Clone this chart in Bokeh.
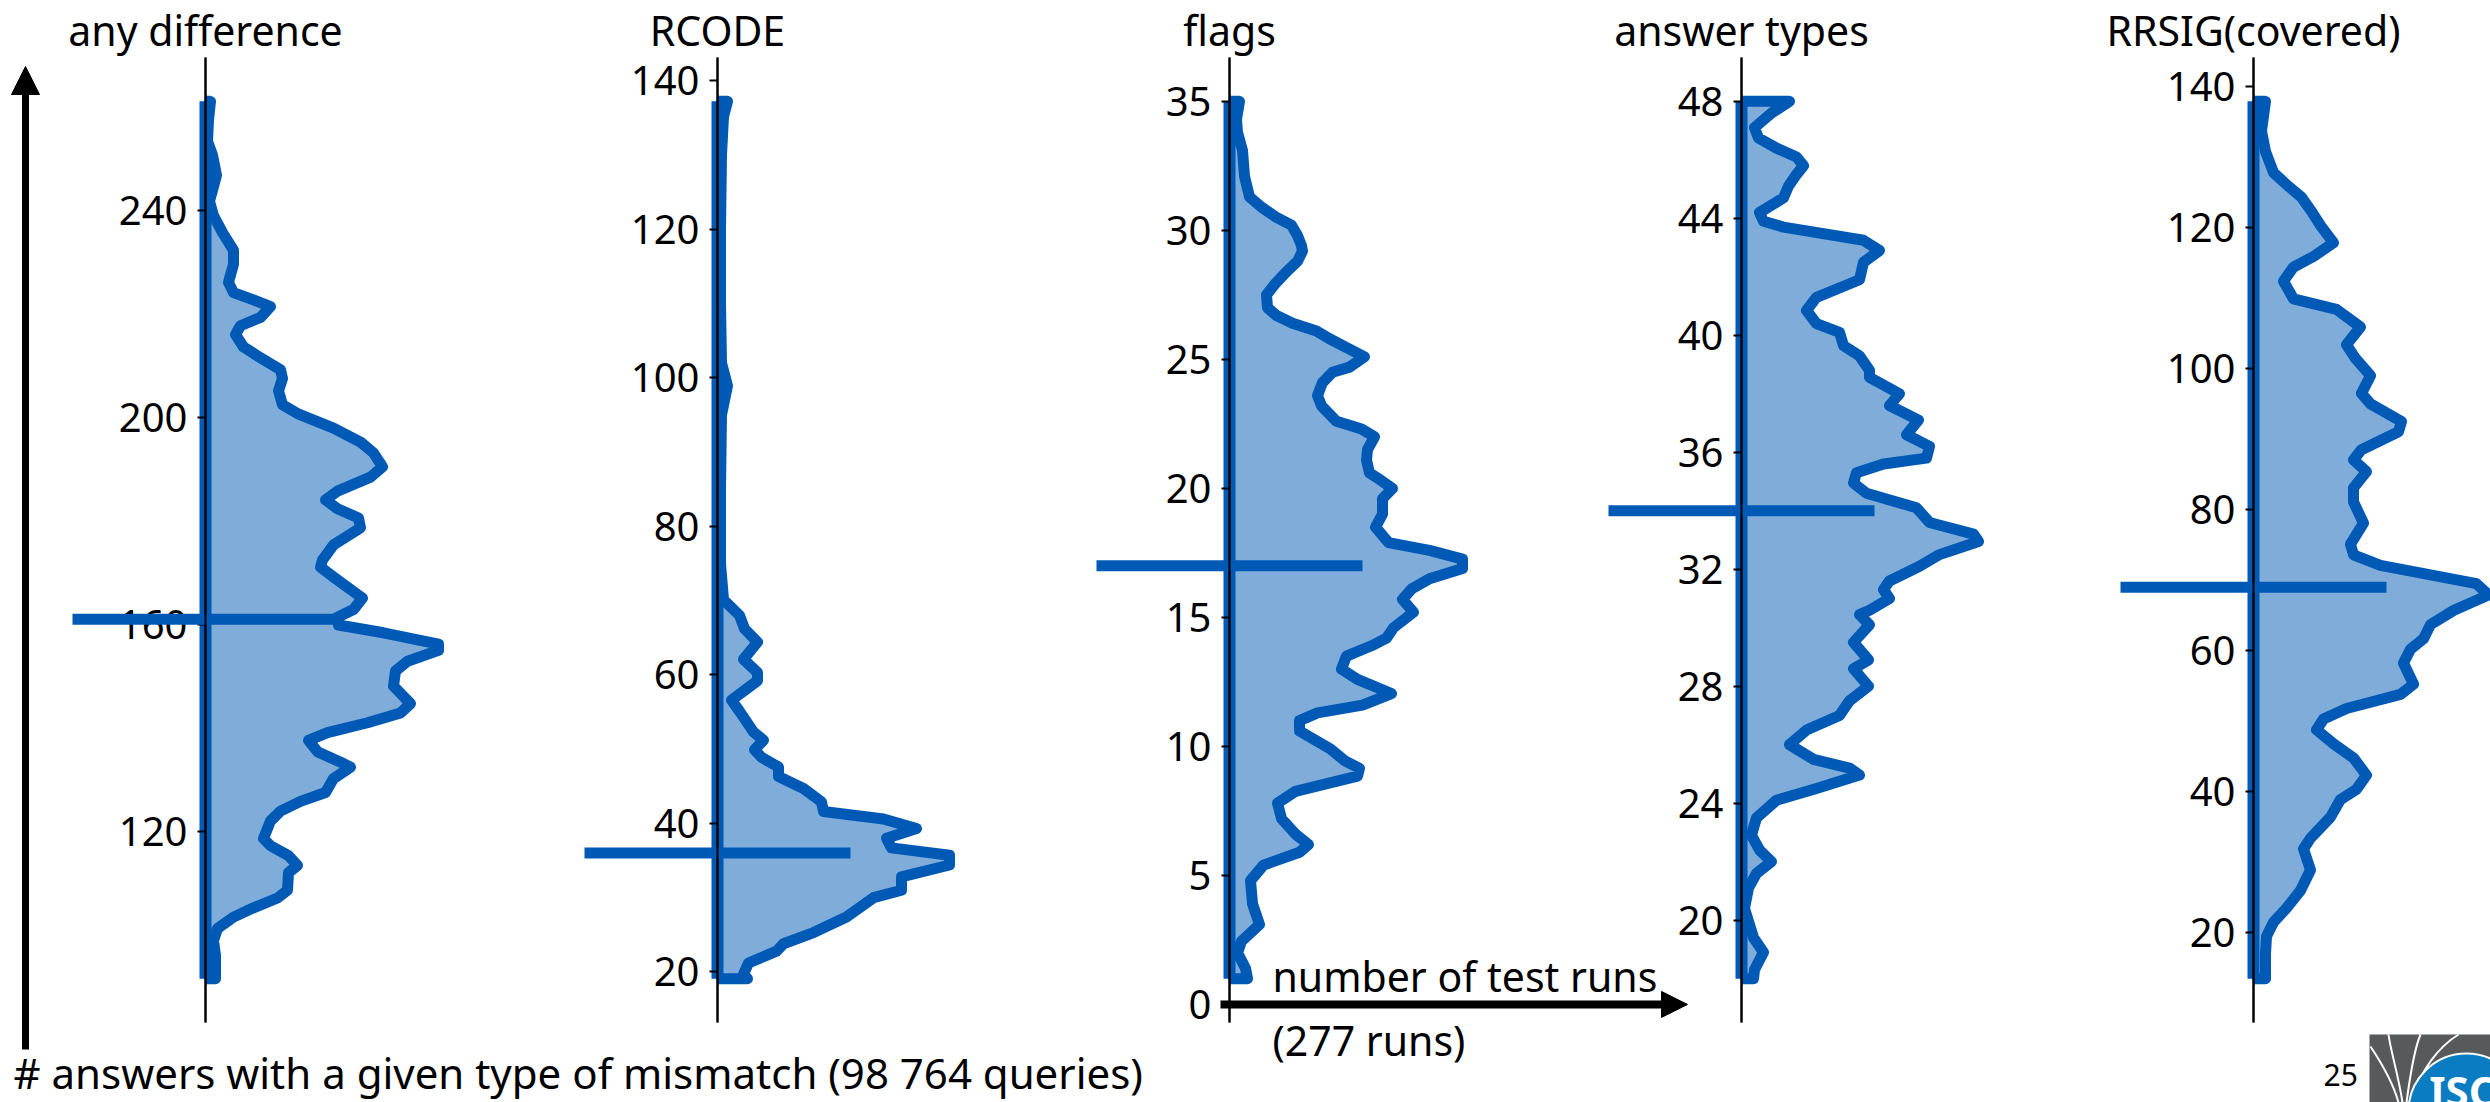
from bokeh.plotting import figure
from bokeh.models import Range1d, LinearAxis, FixedTicker, Arrow, NormalHead, Label
from bokeh.embed import file_html
from bokeh.resources import INLINE

# ---------------------------------------------------------------- data
TITLES = ["any difference", "RCODE", "flags", "answer types", "RRSIG(covered)"]

# number of mismatching answers (y) and the smoothed number of test runs (x)
ANY_VALUES = [91.5, 96, 98.9, 101.2, 103.4, 105.2, 107.1, 108.6, 112, 113.4,
              115.3, 117.2, 118.6, 122, 123.9, 125.8, 127.5, 130.2, 132.4, 133.1,
              135.4, 137.6, 139.1, 141, 142.9, 144.7, 148.1, 151, 152.9, 155,
              156.2, 158.4, 159.9, 161.4, 162.9, 165.1, 169.2, 171.1, 172.5, 175.4,
              178.7, 180.6, 182.4, 184.1, 185.8, 188.5, 190.5, 193.2, 195.3, 198,
              200.8, 202.5, 205.2, 207.6, 209.3, 211.6, 213.7, 216.1, 217.8, 219.4,
              221.5, 222.8, 224.2, 226.2, 229.7, 232.4, 235.8, 239.1, 241.9, 244,
              246.9, 250.8, 253.5, 257.6, 261.2]
ANY_RUNS = [1.0, 1.0, 0.8, 1.2, 2.8, 4.8, 7.2, 8.2, 8.3, 9.2,
            8.3, 6.5, 5.8, 6.5, 7.5, 9.5, 12.0, 12.8, 14.5, 13.8,
            11.2, 10.3, 12.2, 16.2, 19.5, 20.5, 18.8, 19.0, 20.2, 23.3,
            23.3, 17.8, 13.3, 13.2, 14.8, 15.7, 12.8, 11.5, 11.7, 12.8,
            15.5, 15.3, 13.2, 12.0, 13.2, 16.5, 17.7, 16.8, 15.5, 12.8,
            9.2, 7.7, 7.3, 7.7, 7.5, 5.5, 3.8, 3.0, 3.5, 5.5,
            6.5, 4.8, 2.8, 2.3, 2.8, 2.8, 1.7, 0.8, 0.4, 0.7,
            1.1, 0.7, 0.2, 0.3, 0.5]

RCODE_VALUES = [19.1, 19.7, 21.2, 22.8, 23.8, 25.3, 27.4, 30.0, 31.0, 32.8,
                34.4, 35.7, 36.7, 38.0, 39.3, 40.6, 41.6, 42.9, 44.7, 46.3,
                47.6, 48.9, 49.9, 51.2, 52.3, 55.1, 56.6, 59.2, 60.3, 62.1,
                64.4, 66.2, 68.0, 70.1, 75, 85, 95, 98.9, 102, 110,
                120, 130, 135.1, 137.2]
RCODE_RUNS = [3.0, 2.6, 3.1, 5.9, 6.6, 9.6, 12.9, 15.6, 18.4, 18.4,
              23.2, 23.2, 17.4, 16.9, 19.9, 16.6, 10.6, 10.4, 8.6, 6.1,
              6.1, 4.4, 3.7, 4.6, 3.6, 2.2, 1.4, 4.0, 4.0, 2.6,
              4.0, 2.7, 2.2, 0.6, 0.3, 0.3, 0.4, 1.0, 0.4, 0.3,
              0.3, 0.4, 0.6, 1.0]

FLAGS_VALUES = [1.0, 1.4, 2.0, 2.45, 3.1, 3.9, 4.8, 5.4, 5.9, 6.2,
                6.6, 7.2, 7.8, 8.26, 8.85, 9.15, 9.45, 9.9, 10.6, 11.0,
                11.3, 11.6, 12.05, 12.6, 13.0, 13.5, 13.9, 14.2, 14.6, 15.2,
                15.7, 16.1, 16.5, 16.9, 17.26, 17.6, 17.9, 18.5, 19.0, 19.6,
                20.0, 20.3, 20.6, 21.1, 21.5, 22.0, 22.3, 22.6, 23.2, 23.6,
                24.1, 24.5, 24.7, 25.1, 25.4, 25.8, 26.1, 26.4, 26.7, 27.0,
                27.5, 27.9, 28.4, 28.8, 29.2, 29.4, 29.8, 30.2, 30.5, 30.9,
                31.3, 32.1, 33.1, 33.8, 34.3, 35.0]
FLAGS_RUNS = [1.8, 1.6, 0.8, 1.2, 3.0, 2.3, 2.1, 3.4, 7.0, 7.9,
              6.6, 5.2, 4.8, 6.6, 12.8, 13.0, 11.5, 10.1, 7.0, 7.0,
              8.8, 13.3, 16.2, 12.8, 11.2, 11.7, 14.2, 15.7, 16.4, 18.4,
              17.3, 18.2, 20.0, 23.3, 23.3, 20.0, 15.9, 14.6, 15.3, 15.3,
              16.3, 15.2, 14.0, 13.7, 13.8, 14.5, 13.2, 10.7, 9.2, 8.8,
              9.3, 10.3, 12.0, 13.5, 12.0, 10.0, 8.7, 6.3, 4.7, 3.8,
              3.7, 4.5, 5.7, 6.8, 7.3, 7.2, 6.8, 6.2, 4.7, 3.2,
              2.0, 1.5, 1.3, 0.8, 0.7, 1.0]

TYPES_VALUES = [18.0, 18.3, 18.9, 19.4, 20.4, 21.1, 21.6, 22.0, 22.4, 22.9,
                23.5, 24.1, 24.5, 24.96, 25.2, 25.5, 26.0, 26.5, 27.0, 27.5,
                28.0, 28.6, 28.9, 29.5, 30.1, 30.45, 30.6, 31.0, 31.3, 31.6,
                32.1, 32.5, 32.95, 33.2, 33.6, 34.1, 34.6, 34.95, 35.3, 35.6,
                35.8, 36.2, 36.6, 37.1, 37.6, 38.0, 38.56, 38.8, 39.3, 39.65,
                40.1, 40.4, 40.85, 41.3, 41.9, 42.5, 42.9, 43.25, 43.7, 43.9,
                44.2, 44.7, 45.1, 45.5, 45.8, 46.1, 46.4, 46.75, 47.1, 47.6,
                48.0]
TYPES_RUNS = [1.2, 1.3, 2.2, 1.2, 0.3, 0.7, 1.5, 3.0, 1.8, 1.0,
              1.5, 3.5, 7.5, 11.8, 10.8, 7.2, 4.8, 6.5, 9.8, 10.8,
              12.7, 11.2, 12.7, 11.2, 12.8, 11.8, 12.8, 14.8, 14.2, 14.8,
              17.8, 19.8, 23.7, 23.2, 18.8, 17.5, 12.5, 11.2, 11.5, 14.2,
              18.5, 18.8, 16.5, 17.7, 14.8, 15.8, 12.8, 12.8, 11.8, 10.2,
              9.8, 7.5, 6.5, 7.5, 11.8, 12.2, 13.8, 12.2, 4.2, 2.2,
              1.8, 4.2, 4.7, 5.5, 6.2, 5.5, 3.5, 1.7, 1.3, 3.0,
              4.8]

RRSIG_VALUES = [13.5, 17.0, 19.5, 21.5, 23.5, 26.0, 28.9, 31.9, 33.4, 36.4,
                38.9, 40.35, 42.35, 44.8, 46.8, 48.8, 50.3, 51.8, 53.8, 55.25,
                58.25, 60.2, 61.7, 63.7, 65.7, 67.9, 69.5, 72.1, 73.6, 75.1,
                78.1, 81.1, 83.1, 85.4, 87.05, 88.5, 91.05, 92.5, 95.0, 96.5,
                99.0, 101.45, 103.4, 105.9, 108.4, 109.9, 112.4, 114.4, 115.9, 117.85,
                120.3, 122.3, 124.3, 126.1, 127.8, 130.8, 133.7, 137.9]
RRSIG_RUNS = [1.2, 1.2, 1.3, 2.0, 3.3, 4.7, 5.7, 5.0, 5.7, 7.7,
              8.7, 10.3, 11.3, 10.0, 8.0, 6.3, 7.0, 9.3, 14.7, 16.0,
              15.0, 15.7, 17.0, 17.7, 20.0, 23.5, 22.3, 12.7, 10.0, 9.7,
              11.0, 10.0, 10.0, 11.3, 10.0, 10.8, 14.5, 14.8, 11.7, 10.8,
              11.7, 10.2, 9.3, 10.7, 8.3, 4.0, 3.0, 4.0, 6.0, 8.0,
              6.7, 5.8, 4.8, 3.3, 2.0, 1.2, 0.8, 1.2]

MEDIANS = [161, 36, 17, 34, 69]

TICKS = [[120, 160, 200, 240],
         [20, 40, 60, 80, 100, 120, 140],
         [0, 5, 10, 15, 20, 25, 30, 35],
         [20, 24, 28, 32, 36, 40, 44, 48],
         [20, 40, 60, 80, 100, 120, 140]]

TOTAL_RUNS = 277
TOTAL_QUERIES = "98 764"

PANELS = [(ANY_VALUES, ANY_RUNS), (RCODE_VALUES, RCODE_RUNS),
          (FLAGS_VALUES, FLAGS_RUNS), (TYPES_VALUES, TYPES_RUNS),
          (RRSIG_VALUES, RRSIG_RUNS)]

# ---------------------------------------------------------------- layout
W, H = 2490, 1102
AXIS_TOP, AXIS_BOTTOM = 57, 1022          # vertical extent of every spine (px)
AXIS_X = [205, 717, 1229, 1741, 2253]     # where each panel's spine sits (px)
PX_PER_RUN = 10.0                         # shared horizontal scale
MEDIAN_HALF = 13.3                        # half length of the median bar (runs)

BLUE = "#005AB5"
FILL = "#80ACDA"
FONT = "Noto Sans"
TXT = "41px"

p = figure(width=W, height=H, output_backend="svg", toolbar_location=None,
           x_range=Range1d(0, W), y_range=Range1d(H, 0),
           x_axis_type=None, y_axis_type=None, min_border=0)
p.outline_line_color = None
p.background_fill_color = "white"
p.border_fill_color = "white"

for i, (vals, runs) in enumerate(PANELS):
    xn, yn = f"x{i}", f"y{i}"
    lo, hi = min(vals), max(vals)
    pad = 0.05 * (hi - lo)
    ylo, yhi = lo - pad, hi + pad
    s = (yhi - ylo) / (AXIS_BOTTOM - AXIS_TOP)
    p.extra_y_ranges[yn] = Range1d(ylo - (H - AXIS_BOTTOM) * s, yhi + AXIS_TOP * s)
    p.extra_x_ranges[xn] = Range1d(-AXIS_X[i] / PX_PER_RUN, (W - AXIS_X[i]) / PX_PER_RUN)
    kw = dict(x_range_name=xn, y_range_name=yn)

    # half violin: filled body, outline, min-max bar
    p.harea(x1=[0] * len(vals), x2=runs, y=vals, fill_color=FILL, **kw)
    p.line([0] + runs + [0], [vals[0]] + vals + [vals[-1]],
           line_color=BLUE, line_width=11, line_join="round", **kw)
    p.segment(x0=[0], y0=[lo], x1=[0], y1=[hi], line_color=BLUE, line_width=12, **kw)

    # median bar drawn above the spine and its labels
    p.segment(x0=[-MEDIAN_HALF], y0=[MEDIANS[i]], x1=[MEDIAN_HALF], y1=[MEDIANS[i]],
              line_color=BLUE, line_width=11, level="overlay", **kw)
    p.segment(x0=[0], y0=[ylo], x1=[0], y1=[yhi], line_color="black",
              line_width=2, level="overlay", **kw)

    ax = LinearAxis(x_range_name=xn, y_range_name=yn, fixed_location=0,
                    bounds=(ylo, yhi),
                    ticker=FixedTicker(ticks=TICKS[i], minor_ticks=[]),
                    axis_line_color="black", axis_line_width=2,
                    major_tick_line_color="black", major_tick_line_width=2,
                    major_tick_out=8, major_tick_in=0,
                    minor_tick_out=0, minor_tick_in=0,
                    major_label_standoff=10,
                    major_label_text_font=FONT,
                    major_label_text_font_size="40px",
                    major_label_text_color="black")
    p.add_layout(ax, "left")

    p.add_layout(Label(x=AXIS_X[i], y=29, text=TITLES[i], text_font=FONT,
                       text_font_size=TXT, text_align="center",
                       text_baseline="alphabetic", text_color="black"))

# vertical arrow: number of mismatching answers
p.add_layout(Arrow(x_start=25, y_start=1049, x_end=25, y_end=66,
                   line_color="black", line_width=7,
                   end=NormalHead(size=28, fill_color="black", line_color="black", line_width=1)))

# horizontal arrow in the flags panel: number of test runs
p.add_layout(Arrow(x_start=-0.9, y_start=0, x_end=45.8, y_end=0,
                   x_range_name="x2", y_range_name="y2",
                   line_color="black", line_width=8,
                   end=NormalHead(size=26, fill_color="black", line_color="black", line_width=1)))

p.add_layout(Label(x=1272, y=975, text="number of test runs", text_font=FONT,
                   text_font_size=TXT, text_baseline="alphabetic", text_color="black"))
p.add_layout(Label(x=1272, y=1039, text=f"({TOTAL_RUNS} runs)", text_font=FONT,
                   text_font_size=TXT, text_baseline="alphabetic", text_color="black"))
p.add_layout(Label(x=13, y=1072,
                   text=f"# answers with a given type of mismatch ({TOTAL_QUERIES} queries)",
                   text_font=FONT, text_font_size="42px", text_baseline="alphabetic",
                   text_color="black"))

# slide number and logo
p.add_layout(Label(x=2323, y=1074, text="25", text_font=FONT, text_font_size="30px",
                   text_baseline="alphabetic", text_color="black"))
p.quad(left=[2369], right=[2490], top=[1034], bottom=[1102], fill_color="#58595B",
       line_color=None)
p.bezier(x0=[2398, 2402, 2406, 2412], y0=[1102, 1102, 1102, 1102],
         x1=[2370, 2388, 2420, 2458], y1=[1046, 1034, 1034, 1034],
         cx0=[2392, 2398, 2410, 2418], cy0=[1080, 1075, 1072, 1070],
         cx1=[2378, 2390, 2414, 2440], cy1=[1058, 1050, 1048, 1045],
         line_color="white", line_width=2)
p.circle(x=[2466], y=[1111], radius=58, fill_color="#0A7DC2", line_color="white",
         line_width=2)
p.add_layout(Label(x=2462, y=1090, text="ISC", text_font=FONT, text_font_size="42px",
                   text_font_style="bold", text_align="center",
                   text_baseline="alphabetic", text_color="white"))

open("out.html", "w").write(file_html(p, INLINE))
